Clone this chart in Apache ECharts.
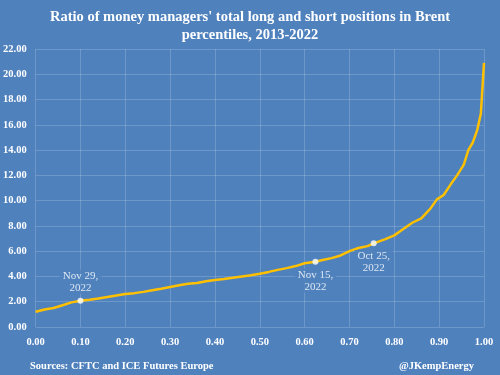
<!DOCTYPE html>
<html>
<head>
<meta charset="utf-8">
<script src="https://cdn.jsdelivr.net/npm/echarts@6/dist/echarts.min.js"></script>
<style>
  html, body { margin: 0; padding: 0; background: #4f81bd; }
  #chart { width: 500px; height: 375px; }
</style>
</head>
<body>
<div id="chart"></div>
<script>
// percentile (x) and long/short ratio (y)
const percentiles = [0.00, 0.02, 0.04, 0.06, 0.08, 0.10, 0.12, 0.14, 0.16, 0.18,
  0.20, 0.22, 0.24, 0.26, 0.28, 0.30, 0.32, 0.34, 0.36, 0.38,
  0.40, 0.42, 0.44, 0.46, 0.48, 0.50, 0.52, 0.54, 0.56, 0.58,
  0.60, 0.624, 0.64, 0.66, 0.68, 0.70, 0.72, 0.74, 0.754, 0.78,
  0.80, 0.82, 0.84, 0.86, 0.88, 0.895, 0.91, 0.925, 0.94, 0.955,
  0.965, 0.975, 0.985, 0.993, 1.00];
const ratios = [1.20, 1.38, 1.50, 1.72, 1.95, 2.08, 2.16, 2.26, 2.38, 2.50,
  2.62, 2.68, 2.78, 2.90, 3.02, 3.16, 3.30, 3.42, 3.48, 3.62,
  3.72, 3.80, 3.90, 4.00, 4.10, 4.22, 4.36, 4.52, 4.66, 4.82,
  5.04, 5.16, 5.30, 5.45, 5.66, 6.00, 6.25, 6.40, 6.62, 6.95,
  7.25, 7.75, 8.25, 8.60, 9.35, 10.10, 10.45, 11.25, 12.00, 12.85,
  14.00, 14.60, 15.60, 16.90, 20.90];

// highlighted dates
const markX = [0.10, 0.624, 0.754];
const markY = [2.08, 5.16, 6.62];
const markLabels = ["Nov 29,\n2022", "Nov 15,\n2022", "Oct 25,\n2022"];
const markPos = ["top", "bottom", "bottom"];

const bg = "#4f81bd";
const font = "'Liberation Serif', 'DejaVu Serif', serif";

const chart = echarts.init(document.getElementById("chart"));

chart.setOption({
  backgroundColor: bg,
  animation: false,
  textStyle: { fontFamily: font },
  title: [
    {
      text: "Ratio of money managers' total long and short positions in Brent\npercentiles, 2013-2022",
      left: "center",
      top: 3,
      textStyle: { color: "#fff", fontSize: 14.5, fontWeight: "bold", lineHeight: 18, fontFamily: font, align: "center" }
    },
    {
      text: "Sources: CFTC and ICE Futures Europe",
      left: 25,
      top: 356,
      textStyle: { color: "#fff", fontSize: 10.5, fontWeight: "bold", fontFamily: font }
    },
    {
      text: "@JKempEnergy",
      right: 21,
      top: 356,
      textStyle: { color: "#fff", fontSize: 10.5, fontWeight: "bold", fontFamily: font }
    }
  ],
  grid: { left: 34, right: 16, top: 49, bottom: 48 },
  xAxis: {
    type: "value",
    min: 0,
    max: 1,
    interval: 0.1,
    axisLine: { show: false },
    axisTick: { show: false },
    axisLabel: {
      color: "#fff", fontWeight: "bold", fontSize: 10.5, margin: 10,
      formatter: (v) => v.toFixed(2)
    },
    splitLine: { show: true, lineStyle: { color: "rgba(255,255,255,0.18)", width: 1 } }
  },
  yAxis: {
    type: "value",
    min: 0,
    max: 22,
    interval: 2,
    axisLine: { show: false },
    axisTick: { show: false },
    axisLabel: {
      color: "#fff", fontWeight: "bold", fontSize: 10.5, margin: 9,
      formatter: (v) => v.toFixed(2)
    },
    splitLine: { lineStyle: { color: "rgba(255,255,255,0.18)", width: 1 } }
  },
  series: [
    {
      type: "line",
      data: percentiles.map((p, i) => [p, ratios[i]]),
      showSymbol: false,
      smooth: false,
      lineStyle: { color: "#ffc000", width: 2.5 },
      z: 2
    },
    {
      type: "scatter",
      data: markX.map((x, i) => ({
        value: [x, markY[i]],
        label: { position: markPos[i] }
      })),
      symbolSize: 6,
      itemStyle: { color: "#fff" },
      label: {
        show: true,
        formatter: (p) => markLabels[p.dataIndex],
        color: "#fff",
        fontSize: 11,
        lineHeight: 12,
        fontFamily: font,
        backgroundColor: bg,
        padding: [0, 3],
        distance: 4,
        align: "center"
      },
      z: 3
    }
  ]
});

window.addEventListener("resize", () => chart.resize());
</script>
</body>
</html>
